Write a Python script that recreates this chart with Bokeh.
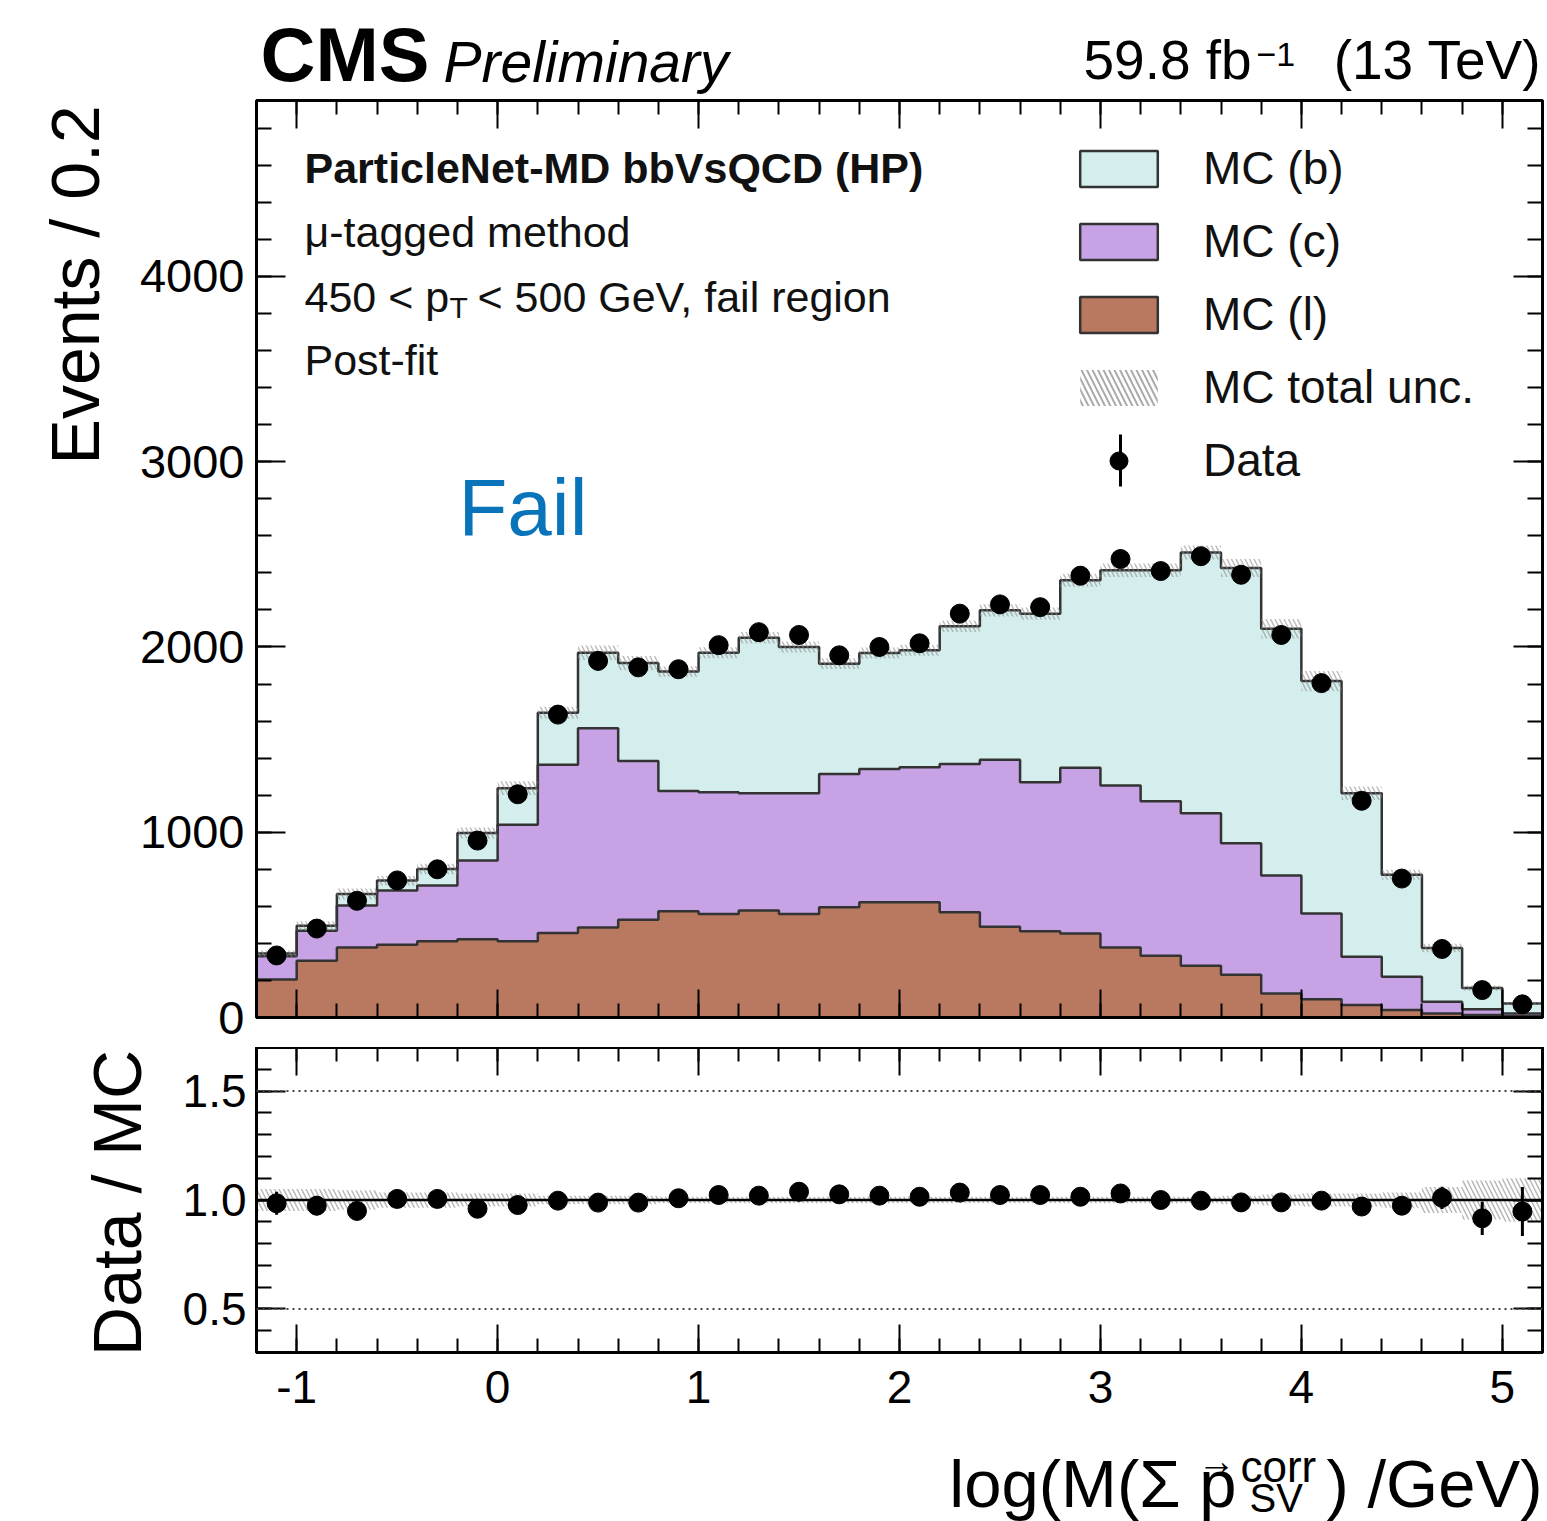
import numpy as np
from bokeh.plotting import figure
from bokeh.models import (Range1d, FixedTicker, LinearAxis, Label, Span, Legend, LegendItem, BoxAnnotation)
from bokeh.layouts import column, row
from bokeh.embed import file_html
from bokeh.resources import INLINE

# ---------------- data ----------------
bin_edges = [-1.2, -1.0, -0.8, -0.6, -0.4, -0.2, 0.0, 0.2, 0.4, 0.6, 0.8, 1.0, 1.2, 1.4, 1.6, 1.8,
             2.0, 2.2, 2.4, 2.6, 2.8, 3.0, 3.2, 3.4, 3.6, 3.8, 4.0, 4.2, 4.4, 4.6, 4.8, 5.0, 5.2]
mc_l = [205, 306, 378, 393, 411, 423, 411, 456, 486, 528, 573, 559, 577, 559, 595, 622,
        622, 568, 490, 465, 454, 378, 333, 279, 231, 130, 99, 68, 40, 22, 14, 7]
mc_c = [125, 162, 226, 292, 301, 424, 630, 908, 1076, 856, 649, 657, 634, 652, 720, 720,
        729, 801, 901, 805, 894, 874, 835, 824, 710, 636, 463, 260, 180, 63, 31, 15]
mc_b = [15, 27, 63, 54, 90, 149, 197, 281, 407, 529, 646, 753, 839, 789, 595, 626,
        631, 743, 807, 910, 1012, 1162, 1246, 1407, 1486, 1333, 1254, 883, 551, 290, 114, 53]
data_counts = [335, 480, 630, 740, 800, 955, 1205, 1635, 1925, 1890, 1880, 2010, 2080, 2065, 1955, 2000,
               2020, 2180, 2230, 2215, 2385, 2475, 2410, 2490, 2390, 2065, 1805, 1170, 750, 370, 148, 71]
ratio = [0.985, 0.974, 0.950, 1.005, 1.005, 0.960, 0.977, 0.997, 0.988, 0.988, 1.008, 1.023, 1.020, 1.038, 1.026, 1.020,
         1.015, 1.034, 1.023, 1.023, 1.015, 1.030, 1.000, 0.997, 0.989, 0.989, 0.997, 0.970, 0.974, 1.010, 0.916, 0.947]
rel_unc = [0.05, 0.05, 0.045, 0.035, 0.035, 0.03, 0.03, 0.02, 0.02, 0.02, 0.015, 0.015, 0.015, 0.015, 0.015, 0.015,
           0.015, 0.015, 0.015, 0.015, 0.015, 0.015, 0.015, 0.015, 0.02, 0.025, 0.03, 0.03, 0.035, 0.06, 0.09, 0.10]

x_major = [-1, 0, 1, 2, 3, 4, 5]
x_tick_labels = ["-1", "0", "1", "2", "3", "4", "5"]
y_major = [0, 1000, 2000, 3000, 4000]
r_major = [0.5, 1.0, 1.5]
r_tick_labels = ["0.5", "1.0", "1.5"]

# ---------------- derived ----------------
edges = np.array(bin_edges)
lo, hi = edges[:-1], edges[1:]
xc = 0.5 * (lo + hi)
l_arr = np.array(mc_l, float)
cl_arr = l_arr + np.array(mc_c, float)
tot = cl_arr + np.array(mc_b, float)
d = np.array(data_counts, float)
d_err = np.sqrt(d)
r = np.array(ratio)
r_err = np.sqrt(d) / tot
u = np.array(rel_unc)

FONT = "Liberation Sans"
COL_B = "#d4eeed"
COL_C = "#c7a3e5"
COL_L = "#b97961"
EDGE = "#333333"
TXT = "#111111"
DESC = 0.18  # distance (in em) between the text bottom and the baseline

W = 1547
YMAX = 4950
HEAD_H = 97
STRIP1_W, STRIP2_W = 120, 160
P_H = 3 + 917 + 30
Q_H = 0 + 305 + 75
FOOT_H = 1521 - HEAD_H - P_H - Q_H


def step_xy(vals):
    xs = np.repeat(edges, 2)[1:-1]
    ys = np.repeat(np.asarray(vals, float), 2)
    return xs, ys


def style_axis(ax, tin, minin, labels=True):
    ax.axis_line_width = 3
    ax.axis_line_color = "black"
    ax.major_tick_in = tin
    ax.major_tick_out = 0
    ax.minor_tick_in = minin
    ax.minor_tick_out = 0
    ax.major_tick_line_width = 2
    ax.minor_tick_line_width = 2
    ax.major_tick_line_color = "black"
    ax.minor_tick_line_color = "black"
    if labels:
        ax.major_label_text_font = FONT
        ax.major_label_text_font_size = "46px"
        ax.major_label_text_color = "black"
    else:
        ax.major_label_text_color = None
        ax.major_label_text_font_size = "1px"
        ax.major_label_standoff = 0


def blank_fig(w, h):
    f = figure(width=w, height=h, x_range=Range1d(0, w), y_range=Range1d(h, 0),
               output_backend="svg", toolbar_location=None, title=None,
               x_axis_location=None, y_axis_location=None,
               min_border_left=0, min_border_right=0, min_border_top=0, min_border_bottom=0)
    f.grid.visible = False
    f.outline_line_color = None
    f.background_fill_color = "white"
    f.border_fill_color = "white"
    return f


def lab_px(fig, x, y_base, text, size, **kw):
    """label on a pixel-coordinate figure (y downwards); y_base is the text baseline"""
    kw.setdefault("text_color", TXT)
    fig.add_layout(Label(x=x, y=y_base + DESC * size, text=text, text_font=FONT,
                         text_font_size=f"{size}px", text_baseline="bottom", **kw))


def lab_rot(fig, x_base, y_top, text, size):
    """vertical label reading upwards, ending at y_top, baseline at x_base"""
    fig.add_layout(Label(x=x_base + DESC * size, y=y_top, text=text, text_font=FONT,
                         text_font_size=f"{size}px", text_baseline="bottom", text_align="right",
                         angle=np.pi / 2, text_color="black"))


xt = FixedTicker(ticks=x_major, minor_ticks=list(np.round(np.arange(-1.2, 5.21, 0.2), 2)))
yt = FixedTicker(ticks=y_major, minor_ticks=list(range(0, 4900, 200)))
rt = FixedTicker(ticks=r_major, minor_ticks=list(np.round(np.arange(0.3, 1.71, 0.1), 2)))

# ---------------- header ----------------
head = blank_fig(W, HEAD_H)
lab_px(head, 260, 83, "CMS", 76, text_font_style="bold", text_color="black")
lab_px(head, 443, 83, "Preliminary", 57, text_font_style="italic", text_color="black")
lab_px(head, 1083, 81, "59.8 fb", 55, text_color="black")
lab_px(head, 1256, 59, "\u22121", 34, text_color="black")
lab_px(head, 1541, 81, "(13 TeV)", 55, text_align="right", text_color="black")

# ---------------- top panel ----------------
p = figure(width=W - STRIP1_W, height=P_H, x_range=Range1d(-1.2, 5.2), y_range=Range1d(0, YMAX),
           output_backend="svg", toolbar_location=None, title=None,
           min_border_left=256 - STRIP1_W, min_border_right=5, min_border_top=3, min_border_bottom=30)
p.grid.visible = False
p.outline_line_color = "black"
p.outline_line_width = 3
p.background_fill_color = "white"
p.border_fill_color = "white"

p.xaxis.ticker = xt
p.yaxis.ticker = yt
style_axis(p.xaxis[0], 28, 14, labels=False)
style_axis(p.yaxis[0], 29, 15, labels=True)
p.yaxis.major_label_text_font_size = "47px"
p.yaxis.major_label_standoff = 12
ax_r = LinearAxis(ticker=yt)
style_axis(ax_r, 29, 15, labels=False)
p.add_layout(ax_r, "right")
ax_t = LinearAxis(ticker=xt)
style_axis(ax_t, 28, 14, labels=False)
p.add_layout(ax_t, "above")

# stacked fills (one polygon per layer)
sx, s_l = step_xy(l_arr)
_, s_cl = step_xy(cl_arr)
_, s_tot = step_xy(tot)
p.varea(x=sx, y1=0, y2=s_l, fill_color=COL_L)
p.varea(x=sx, y1=s_l, y2=s_cl, fill_color=COL_C)
p.varea(x=sx, y1=s_cl, y2=s_tot, fill_color=COL_B)
for sy in (s_l, s_cl, s_tot):
    p.line(sx, sy, line_color=EDGE, line_width=2.5)

# uncertainty band
p.quad(left=lo, right=hi, bottom=tot * (1 - u), top=tot * (1 + u), fill_alpha=0, line_color=None,
       hatch_pattern="\\", hatch_color="#888888", hatch_alpha=0.55, hatch_scale=9, hatch_weight=1.5)

# data
p.segment(x0=xc, y0=d - d_err, x1=xc, y1=d + d_err, line_color="black", line_width=3)
p.scatter(xc, d, size=19, marker="circle", fill_color="black", line_color="black")


def tx(xp):
    return -1.2 + (xp - 256) / 1286 * 6.4


def ty(yp):
    return (1017 - yp) / 917 * YMAX


# legend entries (renderers with no visible points)
nan = [np.nan]
lb = p.quad(left=nan, right=nan, top=nan, bottom=nan, fill_color=COL_B, line_color=EDGE, line_width=2.5)
lc = p.quad(left=nan, right=nan, top=nan, bottom=nan, fill_color=COL_C, line_color=EDGE, line_width=2.5)
ll = p.quad(left=nan, right=nan, top=nan, bottom=nan, fill_color=COL_L, line_color=EDGE, line_width=2.5)
lu = p.quad(left=nan, right=nan, top=nan, bottom=nan, fill_alpha=0, line_color=None,
            hatch_pattern="\\", hatch_color="#aaaaaa", hatch_scale=11, hatch_weight=2)
ld = p.scatter(nan, nan, marker="circle", size=18, fill_color="black", line_color="black")
legend = Legend(items=[LegendItem(label="MC (b)", renderers=[lb]),
                       LegendItem(label="MC (c)", renderers=[lc]),
                       LegendItem(label="MC (l)", renderers=[ll]),
                       LegendItem(label="MC total unc.", renderers=[lu]),
                       LegendItem(label="Data", renderers=[ld])],
                location=(814, 530), orientation="vertical", border_line_alpha=0,
                background_fill_alpha=0, padding=0, margin=0, spacing=19,
                glyph_width=97, glyph_height=45, label_height=53, label_standoff=36,
                label_text_font=FONT, label_text_font_size="46px", label_text_color=TXT)
p.add_layout(legend)
# vertical error-bar stroke of the "Data" legend symbol
p.add_layout(BoxAnnotation(left=tx(1118.5), right=tx(1121.5), top=ty(434), bottom=ty(486),
                           fill_color="black", fill_alpha=1, line_color=None, level="overlay"))


def lab_p(xp, y_center, text, size, **kw):
    kw.setdefault("text_color", TXT)
    p.add_layout(Label(x=tx(xp), y=ty(y_center + (0.36 + DESC) * size), text=text, text_font=FONT,
                       text_font_size=f"{size}px", text_baseline="bottom", **kw))


lab_p(304, 168, "ParticleNet-MD bbVsQCD (HP)", 43, text_font_style="bold")
lab_p(304, 232, "\u03bc-tagged method", 43)
lab_p(304, 297, "450 < p", 43)
lab_p(449, 307, "T", 30)
lab_p(477, 297, "< 500 GeV, fail region", 43)
lab_p(304, 360, "Post-fit", 43)
lab_p(458, 508, "Fail", 80, text_color="#0a74bb")

strip1 = blank_fig(STRIP1_W, P_H)
lab_rot(strip1, 100, 102 - HEAD_H, "Events / 0.2", 68)

# ---------------- ratio panel ----------------
q = figure(width=W - STRIP2_W, height=Q_H, x_range=p.x_range, y_range=Range1d(0.3, 1.7),
           output_backend="svg", toolbar_location=None, title=None,
           min_border_left=256 - STRIP2_W, min_border_right=5, min_border_top=0, min_border_bottom=75)
q.grid.visible = False
q.outline_line_color = "black"
q.outline_line_width = 3
q.background_fill_color = "white"
q.border_fill_color = "white"
q.xaxis.ticker = xt
q.yaxis.ticker = rt
style_axis(q.xaxis[0], 28, 14, labels=True)
q.xaxis.major_label_standoff = 18
q.xaxis.major_label_overrides = dict(zip(x_major, x_tick_labels))
style_axis(q.yaxis[0], 29, 15, labels=True)
q.yaxis.major_label_standoff = 10
q.yaxis.major_label_overrides = dict(zip(r_major, r_tick_labels))
qr = LinearAxis(ticker=rt)
style_axis(qr, 29, 15, labels=False)
q.add_layout(qr, "right")
qt = LinearAxis(ticker=xt)
style_axis(qt, 28, 14, labels=False)
q.add_layout(qt, "above")

for yv in (0.5, 1.5):
    q.add_layout(Span(location=yv, dimension="width", line_color="#444444", line_width=2, line_dash="2 4"))
q.add_layout(Span(location=1.0, dimension="width", line_color="black", line_width=2.5))

q.quad(left=lo, right=hi, bottom=1 - u, top=1 + u, fill_alpha=0, line_color=None,
       hatch_pattern="\\", hatch_color="#888888", hatch_alpha=0.6, hatch_scale=9, hatch_weight=1.5)
q.segment(x0=xc, y0=r - r_err, x1=xc, y1=r + r_err, line_color="black", line_width=3)
q.scatter(xc, r, size=19, marker="circle", fill_color="black", line_color="black")

Q_TOP = HEAD_H + P_H
strip2 = blank_fig(STRIP2_W, Q_H)
lab_rot(strip2, 142, 1050 - Q_TOP, "Data / MC", 68)

# ---------------- x-axis title ----------------
F_TOP = Q_TOP + Q_H
foot = blank_fig(W, FOOT_H)
lab_px(foot, 1236, 1508 - F_TOP, "log(M(\u03a3 p", 67, text_align="right", text_color="black")
lab_px(foot, 1216, 1475 - F_TOP, "\u2192", 38, text_align="center", text_color="black")
lab_px(foot, 1240, 1483 - F_TOP, "corr", 44, text_color="black")
lab_px(foot, 1249, 1512 - F_TOP, "SV", 40, text_color="black")
lab_px(foot, 1542, 1508 - F_TOP, ") /GeV)", 67, text_align="right", text_color="black")

layout = column(head, row(strip1, p), row(strip2, q), foot)
open("out.html", "w").write(file_html(layout, INLINE))
